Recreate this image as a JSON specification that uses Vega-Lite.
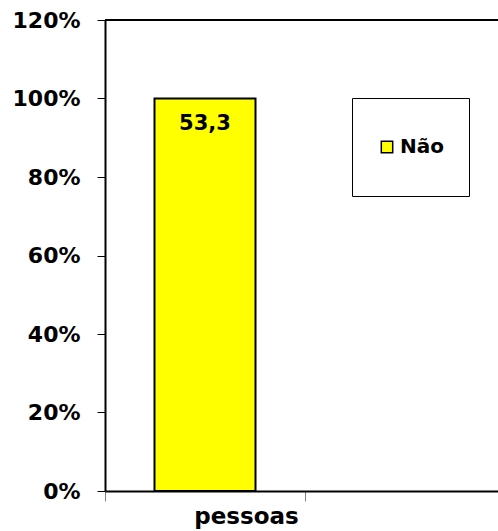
{
  "$schema": "https://vega.github.io/schema/vega-lite/v6.json",
  "width": 393,
  "height": 471,
  "autosize": "none",
  "padding": {"left": 105, "top": 20, "right": 0, "bottom": 40},
  "background": "white",
  "config": {
    "view": {"stroke": null},
    "font": "DejaVu Sans",
    "locale": {
      "number": {"decimal": ",", "thousands": ".", "grouping": [3], "currency": ["", ""]}
    }
  },
  "data": {
    "values": [
      {"grupo": "pessoas", "resposta": "Não", "valor": 53.3}
    ]
  },
  "encoding": {
    "x": {
      "field": "grupo",
      "type": "nominal",
      "scale": {"domain": ["pessoas", " "], "range": [0, 400], "paddingInner": 0.495, "paddingOuter": 0.2475},
      "axis": {
        "title": null,
        "labelAngle": 0,
        "bandPosition": -0.49,
        "labelOffset": 41.5,
        "labelExpr": "datum.value == 'pessoas' ? datum.label : ''",
        "labelFont": "DejaVu Sans",
        "labelFontWeight": "bold",
        "labelFontSize": 23,
        "labelColor": "black",
        "labelBaseline": "alphabetic",
        "labelPadding": 22,
        "tickSize": 10,
        "tickColor": "#808080",
        "tickWidth": 1,
        "domainColor": "black",
        "domainWidth": 2,
        "grid": false
      }
    }
  },
  "layer": [
    {
      "mark": {"type": "rule", "color": "black", "strokeWidth": 2},
      "encoding": {"x": null, "y": {"datum": 1.2, "type": "quantitative"}}
    },
    {
      "mark": {"type": "bar", "color": "#FFFF00", "stroke": "black", "strokeWidth": 2},
      "encoding": {
        "y": {
          "field": "valor",
          "type": "quantitative",
          "stack": "normalize",
          "scale": {"domain": [0, 1.2], "nice": false},
          "axis": {
            "title": null,
            "values": [0, 0.2, 0.4, 0.6, 0.8, 1.0, 1.2],
            "format": ".0%",
            "labelFont": "DejaVu Sans",
            "labelFontWeight": "bold",
            "labelFontSize": 22,
            "labelColor": "black",
            "labelPadding": 17,
            "labelBaseline": "middle",
            "tickSize": 8,
            "tickColor": "black",
            "tickWidth": 1,
            "domainColor": "black",
            "domainWidth": 2,
            "grid": false
          }
        },
        "color": {
          "field": "resposta",
          "type": "nominal",
          "scale": {"range": ["#FFFF00"]},
          "legend": {
            "title": null,
            "orient": "none",
            "legendX": 247,
            "legendY": 78,
            "padding": 25,
            "clipHeight": 48,
            "fillColor": "white",
            "strokeColor": "black",
            "symbolType": "square",
            "symbolSize": 130,
            "symbolStrokeColor": "black",
            "symbolStrokeWidth": 1.5,
            "symbolOpacity": 1,
            "labelFont": "DejaVu Sans",
            "labelFontWeight": "bold",
            "labelFontSize": 20,
            "labelColor": "black",
            "labelOffset": 3
          }
        }
      }
    },
    {
      "mark": {"type": "text", "font": "DejaVu Sans", "fontWeight": "bold", "fontSize": 21, "color": "black", "baseline": "alphabetic", "dy": 31},
      "encoding": {
        "y": {"datum": 1, "type": "quantitative"},
        "text": {"field": "valor", "type": "quantitative", "format": ".1f"}
      }
    }
  ]
}
